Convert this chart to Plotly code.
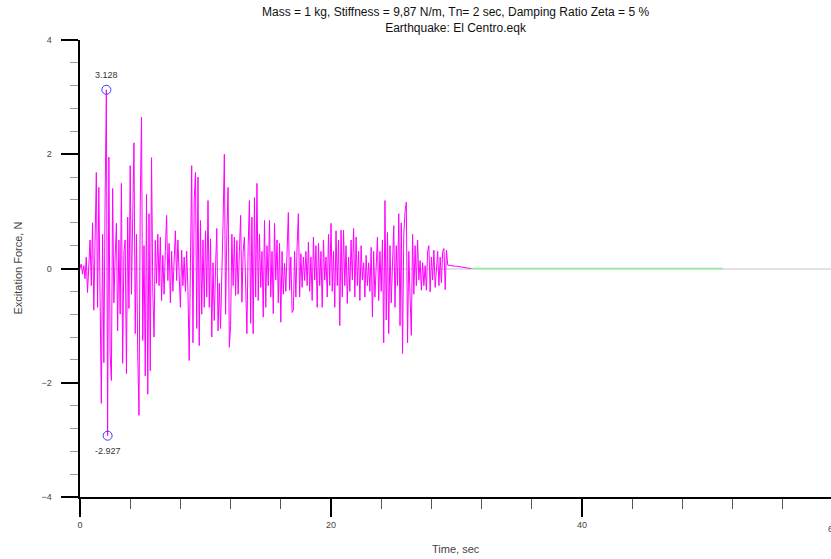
import numpy as np
import plotly.graph_objects as go

# ---- data ----
dt = 0.1  # sampling step of the digitised record, s
force_values = [
    0.0, 0.08, -0.1, 0.05, -0.18, 0.2, -0.42, 0.15, 0.5, -0.3,
    0.8, -0.73, 0.4, 1.68, -0.68, 1.42, -0.5, -2.36, 0.6, -1.65,
    1.2, 3.128, -2.927, 1.95, -1.5, -1.96, 1.4, -0.6, 0.2, 0.79,
    -1.09, 0.5, -0.8, 1.49, -1.66, 0.3, 0.5, -1.84, 0.9, -0.7,
    1.8, -0.45, 0.9, 2.2, -1.14, 0.6, -1.5, -2.57, 1.13, 2.65,
    -1.26, 0.4, -1.88, 1.3, -2.2, 0.96, -1.79, 1.94, -0.4, -1.2,
    0.49, -0.26, 0.6, -0.3, 0.55, -0.56, 0.23, -0.45, 0.3, 0.93,
    -0.21, 0.44, -0.6, 0.3, -0.4, 0.2, 0.66, -0.21, 0.5, -0.1,
    -0.68, 0.32, -0.3, 0.2, -0.4, 0.3, -0.38, -1.61, 0.4, 1.8,
    -1.3, 1.2, 1.68, -1.05, 1.6, -1.35, 0.84, -0.8, 0.5, -0.68,
    0.66, -0.5, 1.19, -0.68, 0.52, -1.2, 0.1, -0.91, 0.0, 0.7,
    -1.09, -0.26, -1.05, -0.3, 0.8, 2.0, -0.8, 0.6, 1.42, -1.38,
    -1.0, 0.6, -0.3, 0.55, -0.47, 0.49, -0.45, 0.3, 0.93, -0.59,
    0.3, 0.55, -0.6, -1.14, 0.4, 1.19, -0.96, 0.9, -1.14, 1.24,
    -0.5, 1.49, -0.56, 0.6, -0.33, 0.3, -0.85, 0.84, -0.68, 0.4,
    -0.3, 0.84, -0.5, 0.3, -0.79, 0.79, -0.2, 0.5, -0.6, 0.44,
    -0.94, 0.3, -0.45, 0.09, -0.4, 0.5, 0.98, -0.38, 0.2, -0.77,
    -0.73, 0.3, -0.5, 0.4, 0.96, -0.5, 0.26, -0.33, 0.2, -0.21,
    0.3, -0.3, 0.46, -0.4, 0.2, -0.56, 0.55, -0.2, 0.4, -0.68,
    0.44, -0.3, 0.3, -0.68, 0.5, -0.2, 0.2, -0.5, 0.6, -0.3,
    0.79, -0.4, 0.3, -0.68, 0.66, -0.3, 0.5, -1.0, 0.67, -0.5,
    0.67, -0.3, 0.4, -0.61, 0.2, -0.4, 0.5, -0.2, 0.7, -0.5,
    0.55, -0.3, 0.3, -0.56, 0.4, -0.2, 0.1, -0.5, 0.23, -0.3,
    0.1, -0.4, 0.37, -0.85, 0.3, -0.5, 0.2, 0.55, -0.56, 0.3,
    -0.4, 0.5, -1.3, 1.19, -0.9, 0.63, -1.14, 0.4, -0.6, 0.3,
    0.75, -0.68, 0.4, -0.3, 0.96, -1.0, 0.8, -1.49, 0.6, 1.0,
    1.16, -1.3, 0.3, -0.5, -1.17, 0.6, -0.45, 0.4, -0.3, 0.5,
    -0.2, 0.14, -0.38, 0.1, -0.3, 0.05, -0.38, 0.3, 0.4, -0.41,
    0.2, -0.2, 0.32, -0.33, 0.1, 0.3, -0.3, 0.2, -0.25, 0.3,
    0.35, -0.37, 0.32, 0.06, 0.055, 0.05, 0.05, 0.045, 0.045, 0.04,
    0.04, 0.035, 0.03, 0.03, 0.025, 0.02, 0.02, 0.015, 0.01, 0.008,
    0.005, 0.003, 0.0,
]
free_time = [31.2, 51.2]      # after the record ends (zero force)
free_force = [0.0, 0.0]

title_lines = ["Mass = 1 kg, Stiffness = 9,87 N/m, Tn= 2 sec, Damping Ratio Zeta = 5 %",
               "Earthquake: El Centro.eqk"]
x_title = "Time, sec"
y_title = "Excitation Force, N"
x_max = 59.84

# ---- figure ----
force = np.array(force_values)
time = np.arange(len(force)) * dt

imax = int(np.argmax(force))
imin = int(np.argmin(force))

FONT = "Liberation Sans, Arial, sans-serif"

fig = go.Figure()
fig.add_trace(go.Scatter(x=time, y=force, mode="lines",
                         line=dict(color="#ff00ff", width=1), hoverinfo="skip"))
fig.add_trace(go.Scatter(x=free_time, y=free_force, mode="lines",
                         line=dict(color="#90ee90", width=1.5), hoverinfo="skip"))
fig.add_trace(go.Scatter(x=[time[imax], time[imin]], y=[force[imax], force[imin]],
                         mode="markers",
                         marker=dict(symbol="circle-open", size=9,
                                     color="#3a3aff", line=dict(width=1)),
                         hoverinfo="skip"))

fig.add_annotation(x=time[imax], y=force[imax], text=f"{force[imax]:.3f}",
                   showarrow=False, yshift=15, font=dict(size=9, color="#333", family=FONT))
fig.add_annotation(x=time[imin], y=force[imin], text=f"{force[imin]:.3f}",
                   showarrow=False, yshift=-15, font=dict(size=9, color="#333", family=FONT))

# titles
fig.add_annotation(x=0.5, y=1, xref="paper", yref="paper", xanchor="center",
                   yanchor="bottom", yshift=3, showarrow=False,
                   text="<br>".join(title_lines),
                   font=dict(size=12, color="#111", family=FONT))
fig.add_annotation(x=0.5, y=0, xref="paper", yref="paper", xanchor="center",
                   yanchor="top", yshift=-44, showarrow=False, text=x_title,
                   font=dict(size=11, color="#444", family=FONT))
fig.add_annotation(x=0, y=0.5, xref="paper", yref="paper", xanchor="center",
                   yanchor="middle", xshift=-63, showarrow=False, text=y_title,
                   textangle=-90, font=dict(size=11, color="#444", family=FONT))
# partially visible tick label "60" at the right edge (cut off as in the reference)
fig.add_annotation(x=60 / x_max, y=0, xref="paper", yref="paper", xanchor="center",
                   yanchor="top", yshift=-25, showarrow=False, text="60",
                   font=dict(size=9, color="#444", family=FONT))

fig.update_layout(
    width=831, height=559,
    margin=dict(l=80, r=0, t=40, b=62),
    plot_bgcolor="white", paper_bgcolor="white",
    showlegend=False,
    font=dict(family=FONT, size=9, color="#444"),
)
fig.update_xaxes(range=[0, x_max], showgrid=False, zeroline=False,
                 showline=True, linecolor="black", linewidth=2,
                 ticks="outside", ticklen=18, tickwidth=1.5, tickcolor="black",
                 tickmode="linear", tick0=0, dtick=20,
                 tickfont=dict(size=9, color="#444"),
                 minor=dict(ticks="outside", ticklen=10, tickcolor="#555",
                            tickwidth=1, dtick=4, tick0=0, showgrid=False))
fig.update_yaxes(range=[-4, 4], showgrid=False,
                 zeroline=True, zerolinecolor="#e2e2e2", zerolinewidth=2,
                 showline=True, linecolor="black", linewidth=2,
                 ticks="outside", ticklen=17, tickwidth=1.5, tickcolor="black",
                 tickmode="linear", tick0=0, dtick=2,
                 ticksuffix="\u00a0\u00a0\u00a0",
                 tickfont=dict(size=9, color="#444"),
                 minor=dict(ticks="outside", ticklen=8, tickcolor="#999",
                            tickwidth=1, dtick=0.4, tick0=0, showgrid=False))

fig.write_html("out.html")
